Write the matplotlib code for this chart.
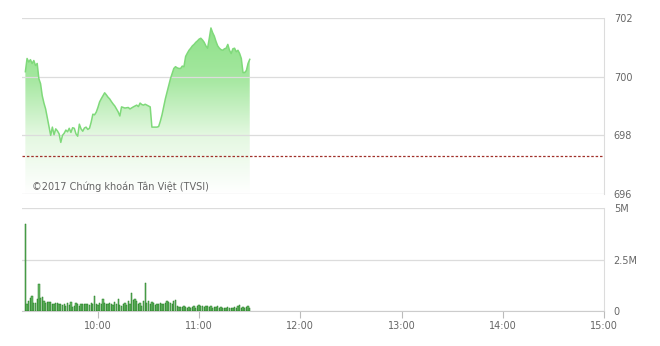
import matplotlib
matplotlib.use("Agg")
import matplotlib.pyplot as plt
from matplotlib.colors import LinearSegmentedColormap
import numpy as np

# intraday price points (time, index value)
price_times = ["9:17", "9:18", "9:19", "9:20", "9:21", "9:22", "9:23", "9:24", "9:25", "9:26",
               "9:27", "9:28", "9:29", "9:30", "9:31", "9:32", "9:33", "9:34", "9:35", "9:36",
               "9:37", "9:38", "9:39", "9:40", "9:41", "9:42", "9:43", "9:44", "9:45", "9:46",
               "9:47", "9:48", "9:49", "9:50", "9:51", "9:52", "9:53", "9:54", "9:55", "9:56",
               "9:57", "9:58", "9:59", "10:00", "10:01", "10:02", "10:03", "10:04", "10:05", "10:06",
               "10:07", "10:08", "10:09", "10:10", "10:11", "10:12", "10:13", "10:14", "10:16", "10:18",
               "10:19", "10:21", "10:22", "10:23", "10:24", "10:25", "10:26", "10:27", "10:28", "10:29",
               "10:30", "10:31", "10:32", "10:35", "10:36", "10:37", "10:38", "10:39", "10:40", "10:41",
               "10:42", "10:43", "10:44", "10:45", "10:46", "10:47", "10:48", "10:49", "10:50", "10:51",
               "10:52", "10:53", "10:54", "10:55", "10:56", "10:57", "10:58", "10:59", "11:00", "11:01",
               "11:02", "11:03", "11:04", "11:05", "11:06", "11:07", "11:08", "11:09", "11:10", "11:11",
               "11:12", "11:13", "11:14", "11:15", "11:16", "11:17", "11:18", "11:19", "11:20", "11:21",
               "11:22", "11:23", "11:24", "11:25", "11:26", "11:27", "11:28", "11:29", "11:30"]
price_vals = [700.17, 700.62, 700.50, 700.58, 700.45, 700.55, 700.38, 700.45, 699.93, 699.76,
              699.35, 699.10, 698.90, 698.60, 698.30, 698.00, 698.28, 698.02, 698.22, 698.15,
              698.05, 697.76, 698.00, 698.07, 698.18, 698.12, 698.24, 698.10, 698.26, 698.24,
              698.05, 697.97, 698.38, 698.22, 698.14, 698.25, 698.28, 698.20, 698.24, 698.45,
              698.72, 698.70, 698.79, 698.95, 699.14, 699.25, 699.35, 699.45, 699.38, 699.30,
              699.24, 699.15, 699.07, 699.00, 698.90, 698.80, 698.66, 698.97, 698.93, 698.95,
              698.90, 698.97, 699.00, 699.03, 698.98, 699.10, 699.05, 699.03, 699.06, 699.03,
              699.00, 698.97, 698.28, 698.28, 698.30, 698.48, 698.70, 698.97, 699.25, 699.48,
              699.70, 699.93, 700.10, 700.28, 700.34, 700.30, 700.28, 700.28, 700.36, 700.34,
              700.69, 700.80, 700.90, 700.97, 701.05, 701.10, 701.17, 701.22, 701.28, 701.31,
              701.25, 701.17, 701.05, 700.97, 701.30, 701.66, 701.50, 701.38, 701.20, 701.05,
              700.97, 700.92, 700.90, 700.95, 700.97, 701.10, 700.90, 700.79, 700.95, 700.97,
              700.85, 700.90, 700.79, 700.62, 700.14, 700.14, 700.21, 700.45, 700.59]
ref_price = 697.29

# per-minute volume (thousand shares), starting 9:17
vol_start = "9:17"
volumes = [4200, 320, 490, 610, 730, 400, 400, 570, 1330, 650,
           680, 490, 400, 440, 440, 450, 320, 360, 400, 400,
           360, 320, 290, 360, 240, 400, 290, 450, 190, 240,
           400, 320, 240, 360, 320, 360, 320, 360, 290, 400,
           320, 730, 360, 290, 400, 320, 570, 400, 320, 360,
           400, 360, 290, 450, 360, 570, 290, 240, 320, 400,
           290, 490, 360, 890, 520, 570, 490, 320, 400, 240,
           490, 1380, 400, 490, 320, 450, 400, 290, 320, 360,
           400, 360, 320, 400, 490, 450, 400, 320, 490, 520,
           240, 190, 190, 190, 230, 190, 160, 190, 130, 190,
           230, 160, 260, 290, 230, 240, 190, 230, 240, 190,
           230, 160, 190, 190, 230, 130, 190, 160, 160, 160,
           190, 160, 130, 160, 190, 160, 230, 290, 160, 190,
           160, 190, 230, 130]

xtick_labels = ["10:00", "11:00", "12:00", "13:00", "14:00", "15:00"]
price_ticks = [696, 698, 700, 702]
vol_ticks = [0, 2500, 5000]
vol_tick_labels = ["0", "2.5M", "5M"]


def to_min(s):
    h, m = s.split(":")
    return int(h) * 60 + int(m)


px = np.array([to_min(t) for t in price_times])
py = np.array(price_vals)
vx = to_min(vol_start) + np.arange(len(volumes))
xt = [to_min(t) for t in xtick_labels]
x0, x1 = to_min("9:15"), to_min("15:00")

grid_c = "#dcdcdc"
txt_c = "#666666"

fig = plt.figure(figsize=(6.6, 3.46), dpi=100)
ax = fig.add_axes([22 / 660, 1 - 194 / 346, 582 / 660, 176 / 346])
axv = fig.add_axes([22 / 660, 1 - 311 / 346, 582 / 660, 103 / 346])

# price panel
ax.set_xlim(x0, x1)
ax.set_ylim(696, 702)
cmap = LinearSegmentedColormap.from_list("g", ["#ffffff", "#e4f8e1", "#a3e79e", "#8ce086"])
grad = np.linspace(0, 1, 256).reshape(-1, 1)
im = ax.imshow(grad, extent=[x0, x1, 696, 702], origin="lower", aspect="auto",
               cmap=cmap, zorder=1)
poly = ax.fill_between(px, py, 696, color="none", lw=0)
im.set_clip_path(poly.get_paths()[0], transform=ax.transData)
ax.plot(px, py, color="#7fd97a", lw=1.1, zorder=3)
ax.axhline(ref_price, color="#a0302a", lw=0.9, ls=(0, (2, 1.5)), zorder=4)

ax.set_yticks(price_ticks)
ax.yaxis.tick_right()
ax.tick_params(axis="y", length=0, pad=7, labelsize=7, labelcolor=txt_c)
ax.set_xticks([])
ax.grid(axis="y", color=grid_c, lw=0.9, zorder=0)
for s in ["left", "top", "bottom"]:
    ax.spines[s].set_visible(False)
ax.spines["right"].set_color(grid_c)
ax.text(x0 + 6, 696.25, "©2017 Chứng khoán Tân Việt (TVSI)", fontsize=7,
        color=txt_c, va="center", zorder=5)

# volume panel
axv.set_xlim(x0, x1)
axv.set_ylim(0, 5000)
axv.bar(vx, volumes, width=0.75, color="#6cbb6a", edgecolor="#1e7a1e", lw=0.35, zorder=3)
axv.set_yticks(vol_ticks)
axv.set_yticklabels(vol_tick_labels)
axv.yaxis.tick_right()
axv.tick_params(axis="y", length=0, pad=7, labelsize=7, labelcolor=txt_c)
axv.set_xticks(xt)
axv.set_xticklabels(xtick_labels)
axv.tick_params(axis="x", length=5, width=0.8, color="#bbbbbb", pad=2,
                labelsize=7, labelcolor=txt_c)
axv.grid(axis="y", color=grid_c, lw=0.9, zorder=0)
axv.spines["left"].set_visible(False)
axv.spines["top"].set_visible(False)
axv.spines["right"].set_color(grid_c)
axv.spines["bottom"].set_color("#cccccc")

fig.savefig("out.png", dpi=100)
